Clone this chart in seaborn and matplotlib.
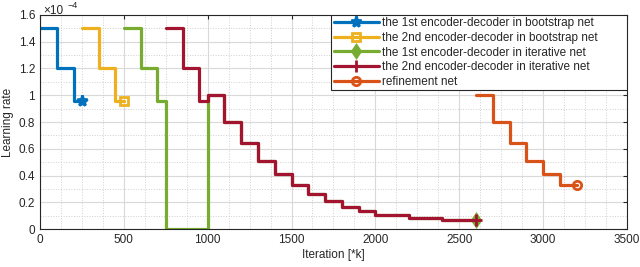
import numpy as np
import pandas as pd
import seaborn as sns
import matplotlib.pyplot as plt
from matplotlib.patches import Rectangle
from matplotlib.ticker import MultipleLocator, FuncFormatter

# learning rate schedules, values in units of 1e-4, step edges in k iterations
boot1_iter = [0, 100, 200, 250]
boot1_lr = [1.5, 1.2, 0.96, 0.96]

boot2_iter = [250, 350, 450, 500]
boot2_lr = [1.5, 1.2, 0.96, 0.96]

tail_iter = [1000, 1100, 1200, 1300, 1400, 1500, 1600, 1700, 1800, 1900, 2000, 2200, 2400, 2600]
tail_lr = [1.0, 0.8, 0.64, 0.512, 0.41, 0.328, 0.262, 0.21, 0.168, 0.134, 0.107, 0.086, 0.069, 0.069]

iter1_iter = [500, 600, 700, 750] + tail_iter
iter1_lr = [1.5, 1.2, 0.96, 0.0] + tail_lr

iter2_iter = [750, 850, 950] + tail_iter
iter2_lr = [1.5, 1.2, 0.96] + tail_lr

refine_iter = [2600, 2700, 2800, 2900, 3000, 3100, 3200]
refine_lr = [1.0, 0.8, 0.64, 0.512, 0.41, 0.328, 0.328]

series = [
    ("the 1st encoder-decoder in bootstrap net", boot1_iter, boot1_lr, "#0072BD", "*"),
    ("the 2nd encoder-decoder in bootstrap net", boot2_iter, boot2_lr, "#EDB120", "s"),
    ("the 1st encoder-decoder in iterative net", iter1_iter, iter1_lr, "#77AC30", "d"),
    ("the 2nd encoder-decoder in iterative net", iter2_iter, iter2_lr, "#A2142F", "+"),
    ("refinement net", refine_iter, refine_lr, "#D95319", "o"),
]

sns.set_style("white")
plt.rcParams['font.family'] = ['Liberation Sans', 'DejaVu Sans']

fig = plt.figure(figsize=(6.4, 2.67), dpi=100)
ax = fig.add_axes([0.0625, 0.142, 0.917, 0.802])

for name, xs, ys, col, mk in series:
    df = pd.DataFrame({"iter": xs, "lr": ys})
    sns.lineplot(data=df, x="iter", y="lr", ax=ax, sort=False, estimator=None,
                 drawstyle="steps-post", color=col, linewidth=2.3, label=name,
                 marker=mk, markevery=[len(xs) - 1], markersize=8 if mk in "*+" else 6,
                 markerfacecolor="none" if mk in "so" else col,
                 markeredgecolor=col, markeredgewidth=2)

ax.set_xlim(0, 3500)
ax.set_ylim(0, 1.6)
ax.xaxis.set_major_locator(MultipleLocator(500))
ax.xaxis.set_minor_locator(MultipleLocator(125))
ax.yaxis.set_major_locator(MultipleLocator(0.2))
ax.yaxis.set_minor_locator(MultipleLocator(0.1))
ax.yaxis.set_major_formatter(FuncFormatter(lambda v, p: "%g" % round(v, 2)))
ax.grid(which="major", color="#d9d9d9", linewidth=0.8)
ax.grid(which="minor", color="#cfcfcf", linestyle=":", linewidth=0.7)
ax.set_axisbelow(True)
ax.tick_params(which="both", direction="in", top=True, right=True, labelsize=8.5,
               length=3, color="#262626")
ax.tick_params(which="minor", length=0)
for s in ax.spines.values():
    s.set_color("#262626")
    s.set_linewidth(0.8)

# exponent label drawn as two plain texts so it stays inside the figure
fig.text(43 / 640, 1 - 14 / 267, "\u00d710", fontsize=8.5, ha="left", va="baseline",
         color="#262626")
fig.text(67 / 640, 1 - 1 / 267, "\u22124", fontsize=6.5, ha="left", va="top",
         color="#262626")
ax.set_xlabel("Iteration [*k]", fontsize=8.5, labelpad=2)
ax.set_ylabel("Learning rate", fontsize=8.5, labelpad=3)

# MATLAB-like legend box with wide right padding
ax.add_patch(Rectangle((0.496, 0.65), 0.504, 0.35, transform=ax.transAxes,
                       facecolor="white", edgecolor="#262626", linewidth=0.8, zorder=4.9))
leg = ax.legend(loc="upper left", bbox_to_anchor=(0.497, 1.0), fontsize=8.5, frameon=False,
                handlelength=3.8, borderaxespad=0, labelspacing=0.22, borderpad=0.2,
                handletextpad=0.3)
leg.set_zorder(5)

fig.savefig("out.png", dpi=100)
